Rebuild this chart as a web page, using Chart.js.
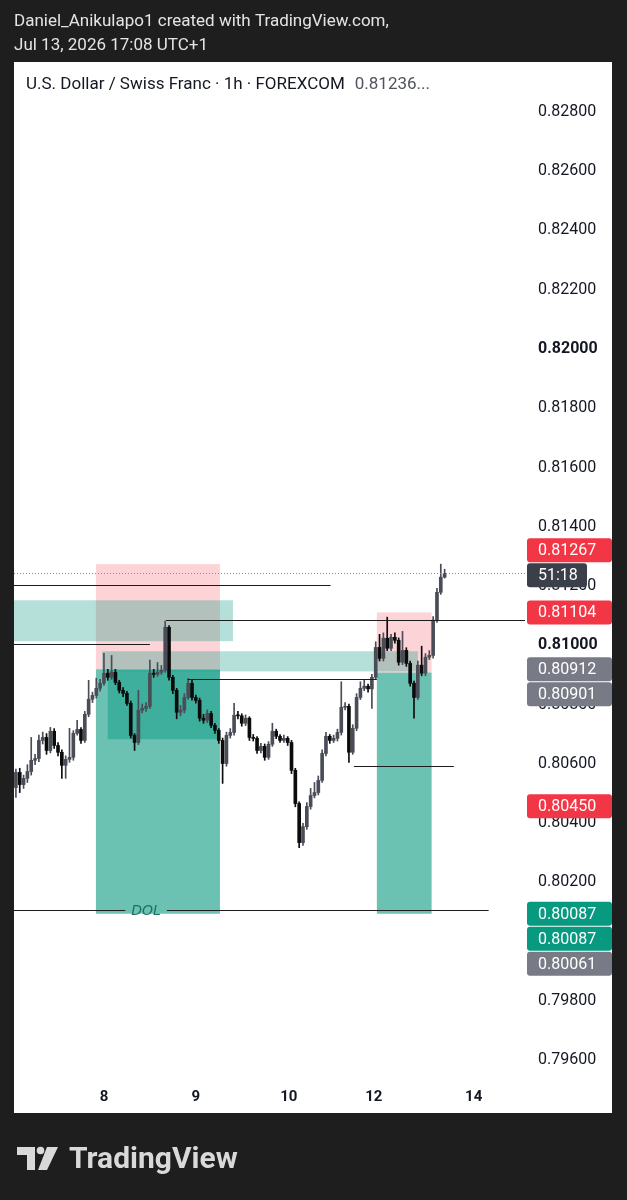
<!DOCTYPE html>
<html>
<head>
<meta charset="utf-8">
<title>USDCHF 1h</title>
<script src="https://cdn.jsdelivr.net/npm/chart.js@4.4.1/dist/chart.umd.min.js"></script>
<style>
  html, body { margin: 0; padding: 0; background: #1e1e1e; }
  canvas { display: block; }
</style>
</head>
<body>
<canvas id="chart" width="627" height="1200"></canvas>
<script>
// Hourly candles (index 0 = first visible bar)
const opens = [0.80513,0.80564,0.80523,0.80544,0.80567,0.80605,0.80611,0.80672,0.80682,0.80638,
  0.80703,0.80655,0.80632,0.80588,0.80608,0.80615,0.80696,0.80709,0.80672,0.80760,
  0.80811,0.80824,0.80848,0.80865,0.80899,0.80885,0.80902,0.80868,0.80841,0.80831,
  0.80797,0.80689,0.80665,0.80774,0.80780,0.80787,0.80899,0.80895,0.80902,0.80909,
  0.81054,0.80885,0.80841,0.80767,0.80774,0.80817,0.80865,0.80817,0.80807,0.80747,
  0.80740,0.80763,0.80723,0.80706,0.80672,0.80594,0.80689,0.80699,0.80757,0.80755,
  0.80730,0.80747,0.80682,0.80679,0.80638,0.80652,0.80615,0.80659,0.80703,0.80686,
  0.80672,0.80679,0.80665,0.80571,0.80459,0.80327,0.80381,0.80449,0.80486,0.80496,
  0.80537,0.80628,0.80686,0.80672,0.80679,0.80699,0.80784,0.80787,0.80632,0.80713,
  0.80817,0.80848,0.80855,0.80846,0.80885,0.80986,0.80949,0.81017,0.80983,0.81020,
  0.81010,0.80936,0.80976,0.80932,0.80865,0.80817,0.80926,0.80899,0.80953,0.80959,
  0.81078,0.81172,0.81223];
const highs = [0.80575,0.80578,0.80555,0.80590,0.80682,0.80625,0.80690,0.80700,0.80695,0.80716,
  0.80712,0.80665,0.80640,0.80620,0.80713,0.80705,0.80740,0.80715,0.80770,0.80875,
  0.80835,0.80882,0.80878,0.80966,0.80912,0.80959,0.80912,0.80875,0.80850,0.80838,
  0.80805,0.80695,0.80841,0.80795,0.80800,0.80943,0.80912,0.80935,0.80925,0.81075,
  0.81060,0.80892,0.80848,0.80790,0.80830,0.80882,0.80875,0.80825,0.80815,0.80760,
  0.80775,0.80770,0.80730,0.80712,0.80680,0.80700,0.80712,0.80797,0.80770,0.80762,
  0.80758,0.80752,0.80692,0.80685,0.80662,0.80660,0.80668,0.80730,0.80710,0.80692,
  0.80690,0.80685,0.80672,0.80578,0.80465,0.80392,0.80462,0.80510,0.80530,0.80552,
  0.80640,0.80699,0.80692,0.80690,0.80710,0.80870,0.80800,0.80795,0.80725,0.80830,
  0.80870,0.80878,0.80862,0.80895,0.81005,0.81030,0.81035,0.81088,0.81030,0.81035,
  0.81018,0.81040,0.80985,0.80940,0.80872,0.80940,0.80990,0.80965,0.80975,0.81090,
  0.81185,0.81267,0.81250];
const lows = [0.80480,0.80496,0.80510,0.80530,0.80555,0.80590,0.80600,0.80660,0.80625,0.80630,
  0.80645,0.80620,0.80544,0.80544,0.80598,0.80605,0.80690,0.80662,0.80665,0.80752,
  0.80800,0.80815,0.80838,0.80858,0.80875,0.80878,0.80860,0.80832,0.80820,0.80790,
  0.80680,0.80638,0.80658,0.80765,0.80770,0.80780,0.80885,0.80888,0.80895,0.80902,
  0.80875,0.80830,0.80745,0.80755,0.80765,0.80810,0.80808,0.80798,0.80737,0.80730,
  0.80732,0.80715,0.80696,0.80662,0.80527,0.80585,0.80680,0.80690,0.80745,0.80720,
  0.80722,0.80672,0.80670,0.80628,0.80630,0.80605,0.80608,0.80652,0.80678,0.80665,
  0.80665,0.80655,0.80560,0.80448,0.80310,0.80318,0.80372,0.80440,0.80478,0.80488,
  0.80530,0.80620,0.80662,0.80665,0.80670,0.80690,0.80775,0.80598,0.80625,0.80705,
  0.80810,0.80840,0.80835,0.80780,0.80878,0.80940,0.80940,0.80975,0.80975,0.81000,
  0.80926,0.80928,0.80922,0.80855,0.80747,0.80810,0.80890,0.80890,0.80945,0.80950,
  0.81070,0.81165,0.81220];
const closes = [0.80564,0.80523,0.80544,0.80567,0.80605,0.80611,0.80672,0.80682,0.80638,0.80703,
  0.80655,0.80632,0.80588,0.80608,0.80615,0.80696,0.80709,0.80672,0.80760,0.80811,
  0.80824,0.80848,0.80865,0.80899,0.80885,0.80902,0.80868,0.80841,0.80831,0.80797,
  0.80689,0.80665,0.80774,0.80780,0.80787,0.80899,0.80895,0.80902,0.80909,0.81054,
  0.80885,0.80841,0.80767,0.80774,0.80817,0.80865,0.80817,0.80807,0.80747,0.80740,
  0.80763,0.80723,0.80706,0.80672,0.80594,0.80689,0.80699,0.80757,0.80755,0.80730,
  0.80747,0.80682,0.80679,0.80638,0.80652,0.80615,0.80659,0.80703,0.80686,0.80672,
  0.80679,0.80665,0.80571,0.80459,0.80327,0.80381,0.80449,0.80486,0.80496,0.80537,
  0.80628,0.80686,0.80672,0.80679,0.80699,0.80784,0.80787,0.80632,0.80713,0.80817,
  0.80848,0.80855,0.80846,0.80885,0.80986,0.80949,0.81017,0.80983,0.81020,0.81010,
  0.80936,0.80976,0.80932,0.80865,0.80817,0.80926,0.80899,0.80953,0.80959,0.81078,
  0.81172,0.81223,0.81236];

// Axes
const priceTicks = [0.828, 0.826, 0.824, 0.822, 0.820, 0.818, 0.816, 0.814, 0.812,
  0.810, 0.808, 0.806, 0.804, 0.802, 0.800, 0.798, 0.796];
const dayTickPos = [23, 47, 71.3, 93.5, 119.6];
const dayTickLabels = ['8', '9', '10', '12', '14'];

// Short position tools (bar index range, stop / entry / target)
const boxStart = [20.9, 94.3];
const boxEnd = [53.3, 108.6];
const boxStop = [0.81267, 0.81104];
const boxEntry = [0.80912, 0.80901];
const boxTarget = [0.80087, 0.80087];

// Teal zones
const zoneStart = [-0.5, 22.5, 24];
const zoneEnd = [56.7, 105, 53.3];
const zoneTop = [0.81145, 0.80973, 0.80909];
const zoneBottom = [0.81007, 0.80905, 0.80676];

// Horizontal rays
const levelPrice = [0.81196, 0.80997, 0.81078, 0.80878, 0.80584, 0.80098];
const levelStart = [-0.5, -0.5, 39.2, 44.9, 88.3, -0.5];
const levelEnd = [82.2, 35, 133, 94.3, 114.4, 123.5];
const levelText = ['', '', '', '', '', 'DOL'];

// Price scale labels
const labelPrices = [0.81104, 0.80912, 0.80901, 0.80450, 0.80087, 0.80087, 0.80061];
const labelColors = ['#f23645', '#787b86', '#787b86', '#f23645', '#089981', '#089981', '#787b86'];
const markPrice = 0.81267;
const countdown = '51:18';
const lastPrice = 0.81236;

const BULL = '#4a4d57';
const BEAR = '#0c0c0c';
const candleColors = closes.map((c, i) => c >= opens[i] ? BULL : BEAR);

const drawings = {
  id: 'drawings',
  beforeDraw(chart) {
    const c = chart.ctx;
    c.save();
    c.fillStyle = '#1e1e1e';
    c.fillRect(0, 0, chart.width, chart.height);
    c.fillStyle = '#ffffff';
    c.fillRect(14, 62, 598, 1051);
    c.textBaseline = 'middle';
    c.fillStyle = '#e4e4e4';
    c.font = '17px Roboto';
    c.fillText('Daniel_Anikulapo1 created with TradingView.com,', 14, 22);
    c.fillText('Jul 13, 2026 17:08 UTC+1', 14, 46);
    const title = 'U.S. Dollar / Swiss Franc · 1h · FOREXCOM';
    c.font = '17px Roboto';
    c.fillStyle = '#131722';
    c.fillText(title, 26, 85);
    c.fillStyle = '#50535e';
    c.fillText(lastPrice.toFixed(5) + '...', 26 + c.measureText(title).width + 10, 85);

    // TradingView logo
    c.fillStyle = '#d9d9d9';
    c.fillRect(17, 1147, 18, 8);
    c.fillRect(27, 1147, 8, 23);
    c.beginPath();
    c.arc(40.5, 1150.5, 3.8, 0, Math.PI * 2);
    c.fill();
    c.beginPath();
    c.moveTo(47, 1147); c.lineTo(58, 1147); c.lineTo(47, 1170); c.lineTo(38, 1170);
    c.closePath();
    c.fill();
    c.font = 'bold 30px Roboto';
    c.textBaseline = 'alphabetic';
    c.fillText('TradingView', 69, 1168);
    c.restore();
  },
  beforeDatasetsDraw(chart) {
    const c = chart.ctx, x = chart.scales.x, y = chart.scales.y, a = chart.chartArea;
    c.save();
    c.beginPath();
    c.rect(a.left, a.top, a.right - a.left, a.bottom - a.top);
    c.clip();
    boxStart.forEach((s, k) => {
      const x0 = x.getPixelForValue(s), x1 = x.getPixelForValue(boxEnd[k]);
      const yS = y.getPixelForValue(boxStop[k]), yE = y.getPixelForValue(boxEntry[k]);
      const yT = y.getPixelForValue(boxTarget[k]);
      c.fillStyle = 'rgba(242, 54, 69, 0.22)';
      c.fillRect(x0, yS, x1 - x0, yE - yS);
      c.fillStyle = 'rgba(8, 153, 129, 0.6)';
      c.fillRect(x0, yE, x1 - x0, yT - yE);
    });
    zoneStart.forEach((s, k) => {
      const x0 = x.getPixelForValue(s), x1 = x.getPixelForValue(zoneEnd[k]);
      const y0 = y.getPixelForValue(zoneTop[k]), y1 = y.getPixelForValue(zoneBottom[k]);
      c.fillStyle = k === 2 ? 'rgba(8, 153, 129, 0.45)' : 'rgba(8, 153, 129, 0.3)';
      c.fillRect(x0, y0, x1 - x0, y1 - y0);
    });
    c.restore();
  },
  afterDatasetsDraw(chart) {
    const c = chart.ctx, x = chart.scales.x, y = chart.scales.y, a = chart.chartArea;
    c.save();
    c.beginPath();
    c.rect(a.left, a.top, a.right - a.left, a.bottom - a.top);
    c.clip();
    // current price dotted line
    const yl = Math.round(y.getPixelForValue(lastPrice)) + 0.5;
    c.strokeStyle = '#8a8d96';
    c.lineWidth = 1;
    c.setLineDash([1, 2]);
    c.beginPath(); c.moveTo(a.left, yl); c.lineTo(a.right, yl); c.stroke();
    c.setLineDash([]);

    c.strokeStyle = '#1c1c1c';
    c.font = 'italic 14px "DejaVu Sans"';
    c.textAlign = 'center';
    c.textBaseline = 'middle';
    levelPrice.forEach((p, k) => {
      const yy = Math.round(y.getPixelForValue(p)) + 0.5;
      const x0 = x.getPixelForValue(levelStart[k]), x1 = x.getPixelForValue(levelEnd[k]);
      const t = levelText[k];
      c.beginPath();
      if (t) {
        const xm = x.getPixelForValue(34);
        const half = c.measureText(t).width / 2 + 6;
        c.moveTo(x0, yy); c.lineTo(xm - half, yy);
        c.moveTo(xm + half, yy); c.lineTo(x1, yy);
        c.fillStyle = '#1f6f62';
        c.fillText(t, xm, yy + 1);
      } else {
        c.moveTo(x0, yy); c.lineTo(x1, yy);
      }
      c.stroke();
    });
    c.restore();
  },
  afterDraw(chart) {
    const c = chart.ctx, y = chart.scales.y;
    const left = 527, right = 612, h = 24, tx = 538;
    c.save();
    c.font = '16px Roboto';
    c.textBaseline = 'middle';
    c.textAlign = 'left';
    const tag = (cy, w, color, text) => {
      c.fillStyle = color;
      c.beginPath();
      c.roundRect(left, cy - h / 2, w, h, 3);
      c.fill();
      c.fillStyle = '#ffffff';
      c.fillText(text, tx, cy + 1);
    };
    const ym = y.getPixelForValue(markPrice);
    tag(ym - 14, right - left, '#f23645', markPrice.toFixed(5));
    tag(ym + 11, 60, '#3b3f49', countdown);
    let prev = ym + 11;
    labelPrices.forEach((p, k) => {
      let cy = y.getPixelForValue(p);
      if (cy < prev + 25) cy = prev + 25;
      tag(cy, right - left, labelColors[k], p.toFixed(5));
      prev = cy;
    });
    c.restore();
  }
};

new Chart(document.getElementById('chart'), {
  type: 'bar',
  data: {
    datasets: [{
      label: 'wick',
      data: opens.map((o, i) => ({ x: i, y: [lows[i], highs[i]] })),
      backgroundColor: candleColors,
      barThickness: 1,
      grouped: false,
      borderWidth: 0
    }, {
      label: 'body',
      data: opens.map((o, i) => ({ x: i, y: [o, closes[i]] })),
      backgroundColor: candleColors,
      barThickness: 3,
      minBarLength: 1,
      grouped: false,
      borderWidth: 0
    }]
  },
  options: {
    responsive: false,
    animation: false,
    layout: { padding: { left: 14, right: 15, top: 98, bottom: 87 } },
    plugins: { legend: { display: false }, tooltip: { enabled: false } },
    scales: {
      x: {
        type: 'linear',
        min: -0.5,
        max: 133,
        offset: false,
        grid: { display: false, drawTicks: false },
        border: { display: false },
        afterFit: s => { s.height = 40; },
        afterBuildTicks: s => { s.ticks = dayTickPos.map(v => ({ value: v })); },
        ticks: {
          autoSkip: false,
          maxRotation: 0,
          padding: 15,
          color: '#131722',
          font: { family: 'Roboto', size: 15, weight: 'bold' },
          callback: v => {
            const k = dayTickPos.indexOf(v);
            return k >= 0 ? dayTickLabels[k] : '';
          }
        }
      },
      y: {
        position: 'right',
        min: 0.795494,
        max: 0.828405,
        grid: { display: false, drawTicks: false },
        border: { display: false },
        afterFit: s => { s.width = 87; },
        afterBuildTicks: s => { s.ticks = priceTicks.map(v => ({ value: v })); },
        ticks: {
          padding: 13,
          labelOffset: 2,
          color: '#131722',
          font: ctx => {
            const v = ctx.tick ? ctx.tick.value * 100 : 0.5;
            const round = Math.abs(v - Math.round(v)) < 1e-6;
            return { family: 'Roboto', size: 16, weight: round ? 'bold' : 'normal' };
          },
          callback: v => v.toFixed(5)
        }
      }
    }
  },
  plugins: [drawings]
});
</script>
</body>
</html>
